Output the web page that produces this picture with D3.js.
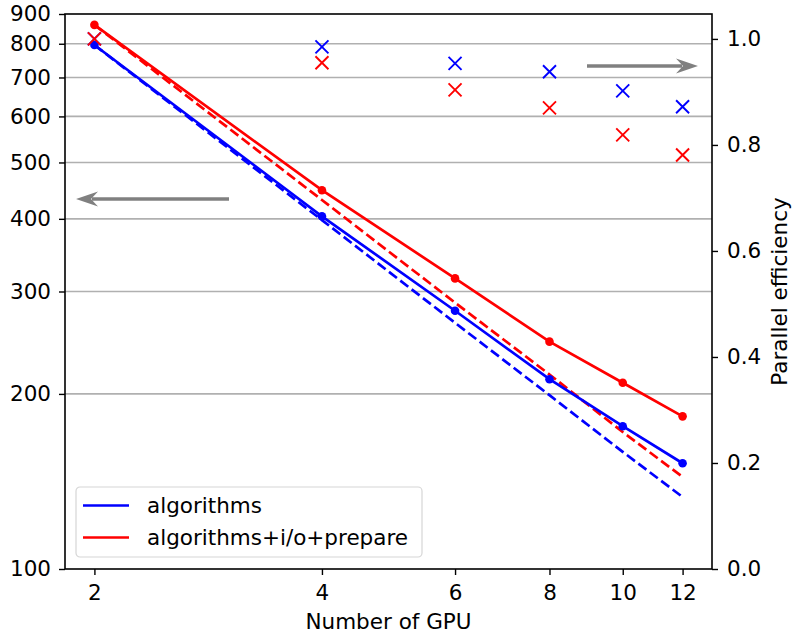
<!DOCTYPE html>
<html>
<head>
<meta charset="utf-8">
<script src="https://cdn.jsdelivr.net/npm/d3@7"></script>
<style>
  body { margin: 0; background: #fff; }
  text { font-family: "DejaVu Sans", sans-serif; }
</style>
</head>
<body>
<script>
var width = 792
var height = 635

// number of GPUs
var gpus = [2, 4, 6, 8, 10, 12]

// elapsed time (left axis, log)
var timeAlgo = [796, 404, 278, 212, 176, 152]
var timeAll = [862, 448, 316, 246, 209, 183]

// ideal scaling (dashed)
var idealAlgo = [796, 398, 265, 199, 159, 133]
var idealAll = [862, 431, 287, 216, 172, 144]

// parallel efficiency (right axis)
var effAlgo = [1.0, 0.985, 0.954, 0.938, 0.902, 0.872]
var effAll = [1.0, 0.955, 0.904, 0.870, 0.819, 0.781]

var leftTicks = [100, 200, 300, 400, 500, 600, 700, 800, 900]
var gridTicks = [200, 300, 400, 500, 600, 700, 800]
var rightTicks = [0.0, 0.2, 0.4, 0.6, 0.8, 1.0]

var legendLabels = ["algorithms", "algorithms+i/o+prepare"]
var colors = ["#0000ff", "#ff0000"]

var m = { left: 65, right: 712, top: 14, bottom: 569 }

var pad = Math.exp(0.05 * Math.log(12 / 2))
var x = d3.scaleLog().domain([2 / pad, 12 * pad]).range([m.left, m.right])
var y = d3.scaleLog().domain([100, 900]).range([m.bottom, m.top])
var y2 = d3.scaleLinear().domain([0, 1.047]).range([m.bottom, m.top])

var svg = d3.select("body").append("svg")
  .attr("width", width).attr("height", height)

// grid
svg.append("g").selectAll("line").data(gridTicks).join("line")
  .attr("x1", m.left).attr("x2", m.right)
  .attr("y1", d => y(d)).attr("y2", d => y(d))
  .attr("stroke", "#b0b0b0").attr("stroke-width", 1.6)

var fs = 21.5

// axes
var xAxis = d3.axisBottom(x).tickValues(gpus).tickFormat(d3.format("d")).tickSize(6).tickPadding(10)
var gx = svg.append("g").attr("transform", `translate(0,${m.bottom})`).call(xAxis)

var yAxis = d3.axisLeft(y).tickValues(leftTicks).tickFormat(d3.format("d")).tickSize(6).tickPadding(8)
var gy = svg.append("g").attr("transform", `translate(${m.left},0)`).call(yAxis)

var y2Axis = d3.axisRight(y2).tickValues(rightTicks).tickFormat(d3.format(".1f")).tickSize(6).tickPadding(9)
var gy2 = svg.append("g").attr("transform", `translate(${m.right},0)`).call(y2Axis)

for (const g of [gx, gy, gy2]) {
  g.attr("font-size", fs).attr("font-family", "DejaVu Sans, sans-serif")
  g.select(".domain").remove()
  g.selectAll(".tick line").attr("stroke", "#000").attr("stroke-width", 1.4)
  g.selectAll(".tick text").attr("fill", "#000")
}

// frame
svg.append("rect")
  .attr("x", m.left).attr("y", m.top)
  .attr("width", m.right - m.left).attr("height", m.bottom - m.top)
  .attr("fill", "none").attr("stroke", "#000").attr("stroke-width", 1.6)

var line = d3.line().x(d => x(d[0])).y(d => y(d[1]))

var series = [
  { t: timeAlgo, ideal: idealAlgo, eff: effAlgo, color: colors[0] },
  { t: timeAll, ideal: idealAll, eff: effAll, color: colors[1] }
]

// dashed ideal lines
series.forEach(s => {
  svg.append("path")
    .datum(d3.zip(gpus, s.ideal))
    .attr("d", line)
    .attr("fill", "none").attr("stroke", s.color)
    .attr("stroke-width", 2.7).attr("stroke-dasharray", "10,4.3")
})

// solid measured lines with dots
series.forEach(s => {
  svg.append("path")
    .datum(d3.zip(gpus, s.t))
    .attr("d", line)
    .attr("fill", "none").attr("stroke", s.color).attr("stroke-width", 2.7)
  svg.append("g").selectAll("circle").data(d3.zip(gpus, s.t)).join("circle")
    .attr("cx", d => x(d[0])).attr("cy", d => y(d[1])).attr("r", 4.3)
    .attr("fill", s.color)
})

// efficiency crosses
var cs = 6.5
series.forEach(s => {
  svg.append("g").selectAll("path").data(d3.zip(gpus, s.eff)).join("path")
    .attr("d", d => {
      var cx = x(d[0]), cy = y2(d[1])
      return `M${cx - cs},${cy - cs}L${cx + cs},${cy + cs}M${cx - cs},${cy + cs}L${cx + cs},${cy - cs}`
    })
    .attr("stroke", s.color).attr("stroke-width", 1.9).attr("fill", "none")
})

// arrows
function arrow(x0, x1, yy) {
  var dir = Math.sign(x1 - x0)
  var hl = 20, hw = 7.5
  var xb = x1 - dir * hl
  svg.append("line")
    .attr("x1", x0).attr("x2", xb + dir * 4).attr("y1", yy).attr("y2", yy)
    .attr("stroke", "#808080").attr("stroke-width", 3.5)
  svg.append("path")
    .attr("d", `M${x1},${yy}L${xb - dir * 2},${yy - hw}L${xb + dir * 5},${yy}L${xb - dir * 2},${yy + hw}Z`)
    .attr("fill", "#808080")
}
arrow(229, 76, 199)
arrow(587, 698, 66)

// legend
var lg = svg.append("g").attr("transform", "translate(76,487)")
lg.append("rect")
  .attr("width", 346).attr("height", 70).attr("rx", 4)
  .attr("fill", "#fff").attr("fill-opacity", 0.8)
  .attr("stroke", "#d6d6d6").attr("stroke-width", 1.2)
legendLabels.forEach((lab, i) => {
  var yy = 18.5 + i * 32
  lg.append("line").attr("x1", 7).attr("x2", 53).attr("y1", yy).attr("y2", yy)
    .attr("stroke", colors[i]).attr("stroke-width", 2.7)
  lg.append("text").attr("x", 71).attr("y", yy + 7.5)
    .attr("font-size", fs).text(lab)
})

// axis labels
svg.append("text")
  .attr("x", (m.left + m.right) / 2).attr("y", 629)
  .attr("text-anchor", "middle").attr("font-size", fs)
  .text("Number of GPU")

svg.append("text")
  .attr("transform", `translate(787,${(m.top + m.bottom) / 2}) rotate(-90)`)
  .attr("text-anchor", "middle").attr("font-size", fs)
  .text("Parallel efficiency")
</script>
</body>
</html>
